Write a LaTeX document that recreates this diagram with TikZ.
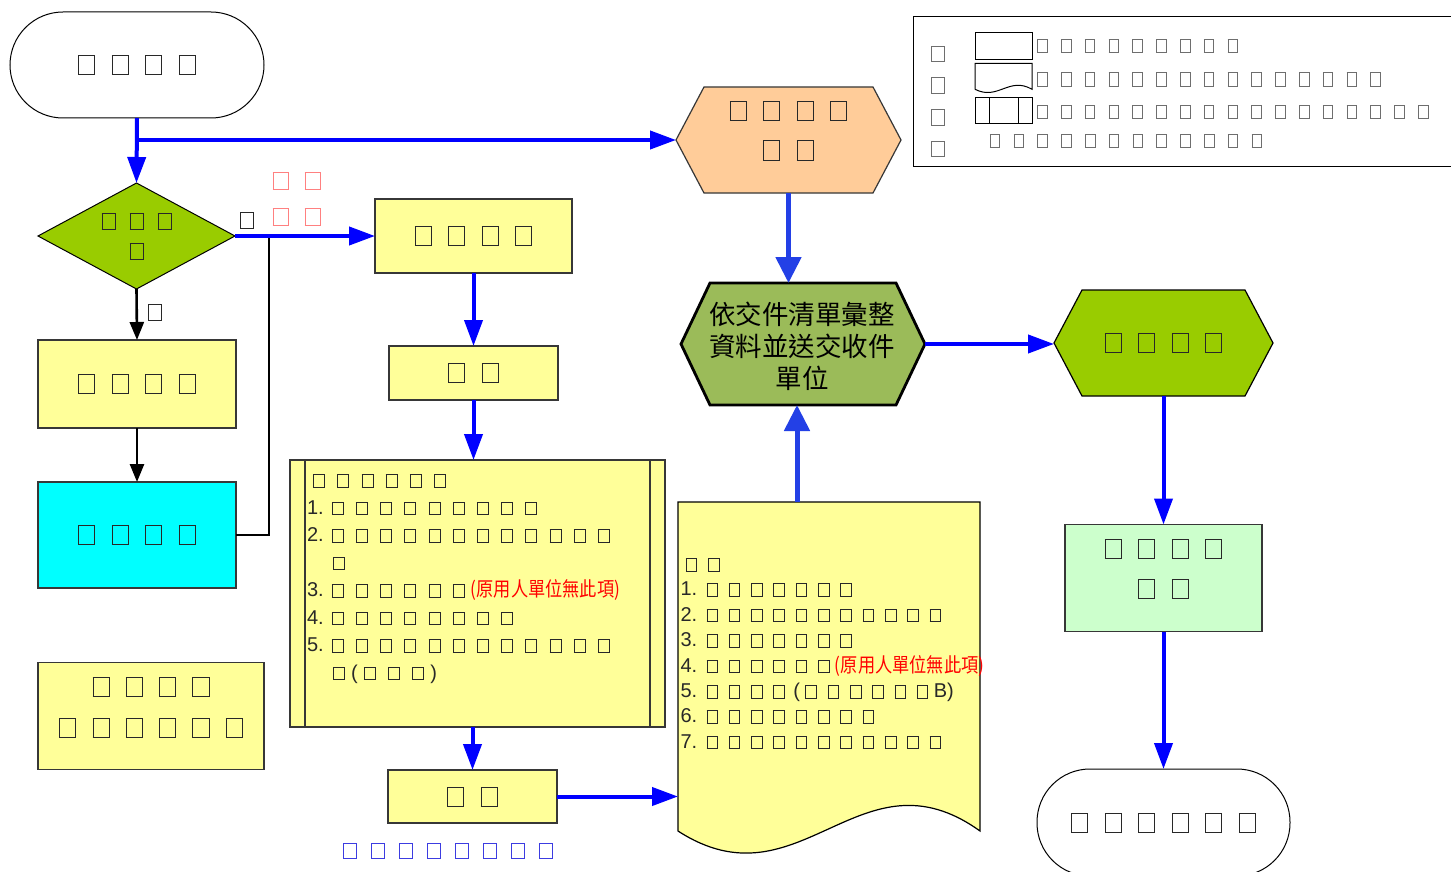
\documentclass[tikz,border=0pt]{standalone}
\usepackage{fontspec}
\usepackage{graphicx}
\setmainfont{Liberation Sans}
\newfontfamily\cjk{Noto Sans CJK TC}
\usetikzlibrary{arrows.meta,shapes.geometric,backgrounds}
\definecolor{cYel}{RGB}{255,255,153}
\definecolor{cEdge}{RGB}{55,55,55}
\definecolor{cLime}{RGB}{153,204,0}
\definecolor{cAqua}{RGB}{0,255,255}
\definecolor{cMint}{RGB}{204,255,204}
\definecolor{cPeach}{RGB}{255,204,153}
\definecolor{cOlive}{RGB}{155,187,89}
\definecolor{cBlue}{RGB}{0,0,255}
\definecolor{cBlueB}{RGB}{35,64,230}
\definecolor{cPink}{RGB}{255,128,128}
\definecolor{cNote}{RGB}{60,60,225}
\definecolor{cGray}{RGB}{110,110,110}
\definecolor{cTofu}{RGB}{40,40,40}
\newlength\tfw \newlength\tfh \newlength\tfp \newlength\tfr
\setlength\tfr{0.95pt}
\newcommand\tofuset[3]{\setlength\tfw{\dimexpr#1pt-2\tfr\relax}\setlength\tfh{\dimexpr#2pt-2\tfr\relax}\setlength\tfp{#3pt}}
\newcommand\T{\makebox[\tfp]{\setlength\fboxsep{0pt}\setlength\fboxrule{\tfr}\fbox{\rule{0pt}{\tfh}\rule{\tfw}{0pt}}}}
\newcommand\TT[1]{\ifnum#1>0 \T\expandafter\TT\expandafter{\the\numexpr#1-1\relax}\fi}
\newcommand\hexpath[2]{(#1.west) -- ([xshift=#2]#1.north west) -- ([xshift=-#2]#1.north east) -- (#1.east) -- ([xshift=-#2]#1.south east) -- ([xshift=#2]#1.south west) -- cycle}
\newcommand\redtxt{\scalebox{0.86}[1]{\cjk\fontsize{20}{20}\selectfont\color{red}(原用人單位無此項)}}
\begin{document}
\begin{tikzpicture}[x=1pt,y=-1pt,
  every node/.style={inner sep=0pt,outer sep=0pt,align=center},
  yel/.style={draw=cEdge,line width=1.2pt,fill=cYel},
  plain/.style={draw=cEdge,line width=1.2pt},
  term/.style={draw=black,line width=1pt,fill=white,rounded corners=53pt,minimum width=254pt,minimum height=106pt},
  bigtf/.style={text=cTofu,font=\tofuset{17}{20}{33.5}\fontsize{20}{40}\selectfont},
  smalltf/.style={text=cTofu,font=\tofuset{14}{17}{20}\fontsize{17}{20}\selectfont},
  barrow/.style={draw=cBlue,line width=4pt,-{Triangle[length=26pt,width=18pt]}},
  bbarrow/.style={draw=cBlueB,line width=5pt,-{Triangle[length=26pt,width=25pt]}},
  karrow/.style={draw=black,line width=2.6pt,-{Triangle[length=18pt,width=14pt]}},
  kline/.style={draw=black,line width=2.6pt}]
\useasboundingbox (0,0) rectangle (1451,872);
\clip (0,0) rectangle (1451,872);

% left column
\node[term,bigtf] (start) at (137,65) {\TT4};
\node[diamond,draw=black,line width=1pt,fill=cLime,minimum width=197pt,minimum height=106pt,shape aspect=1.86,text=cTofu,font=\tofuset{14}{17}{28}\fontsize{17}{30}\selectfont] (dec) at (136.5,236) {\TT3\\\TT1};
\node[yel,bigtf,minimum width=198pt,minimum height=88pt] (b1) at (137,384) {\TT4};
\node[plain,fill=cAqua,bigtf,minimum width=198pt,minimum height=106pt] (cy) at (137,535) {\TT4};
\node[yel,minimum width=226pt,minimum height=107pt] (bl) at (151,716) {};
\node[text=cTofu,font=\tofuset{17}{20}{33.3}\fontsize{20}{41}\selectfont] (blt) at (151,707.5) {\TT4\\\TT6};

% middle column
\node[yel,bigtf,minimum width=197pt,minimum height=74pt] (b2) at (473.5,236) {\TT4};
\node[yel,bigtf,minimum width=169pt,minimum height=54pt] (b3) at (473.5,373) {\TT2};
\node[yel,minimum width=375pt,minimum height=267pt] (pp) at (477.5,593.5) {};
\draw[draw=cEdge,line width=1.2pt] ([xshift=15pt]pp.north west) -- ([xshift=15pt]pp.south west);
\draw[draw=cEdge,line width=1.2pt] ([xshift=-15pt]pp.north east) -- ([xshift=-15pt]pp.south east);
\node[anchor=north west,align=left,text=cTofu,font=\tofuset{12}{13.5}{24.2}\fontsize{20}{27.5}\selectfont] (ppt) at (307,474)
 {\TT6\\
  1.\kern2pt\TT9\\
  2.\kern2pt\TT{12}\\
  \kern20pt\TT1\\
  3.\kern2pt\TT6\redtxt\\
  4.\kern2pt\TT8\\
  5.\kern2pt\TT{12}\\
  \kern20pt\TT1(\TT3)};
\node[yel,bigtf,minimum width=169pt,minimum height=53pt] (b4) at (472.5,796.5) {\TT2};
\node[text=cNote,font=\tofuset{14}{16}{28}\fontsize{16}{20}\selectfont] (lnote) at (448,851) {\TT8};

% document
\node[minimum width=302pt,minimum height=329pt] (doc) at (829,666.5) {};
\node[anchor=north west,align=left,text=cTofu,font=\tofuset{11.5}{13.5}{22.3}\fontsize{20}{25.4}\selectfont] (doct) at (680.5,558)
 {\TT2\\
  1.\kern4pt\TT7\\
  2.\kern4pt\TT{11}\\
  3.\kern4pt\TT7\\
  4.\kern4pt\TT6\redtxt\\
  5.\kern4pt\TT4\kern3pt(\TT6B)\\
  6.\kern4pt\TT8\\
  7.\kern4pt\TT{11}};

% hexagons
\node[minimum width=225pt,minimum height=106pt] (oh) at (788.5,140) {};
\node[bigtf] (oht) at (788.5,130.5) {\TT4\\\TT2};
\node[minimum width=244pt,minimum height=122pt] (mh) at (803,344) {};
\node[font=\cjk\fontsize{26.5}{32}\selectfont] (mht) at (802,346.5) {依交件清單彙整\\資料並送交收件\\單位};
\node[bigtf,minimum width=219pt,minimum height=106pt] (rh) at (1163.5,343) {\TT4};

% right column
\node[plain,fill=cMint,minimum width=197pt,minimum height=107pt] (lg) at (1163.5,578) {};
\node[bigtf] (lgt) at (1163.5,568.5) {\TT4\\\TT2};
\node[term,bigtf,minimum width=253pt,minimum height=107pt] (end) at (1163.5,822.5) {\TT6};

% labels
\node[smalltf] (ly) at (247,220) {\TT1};
\node[smalltf] (ln) at (155,312) {\TT1};
\node[text=cPink,font=\tofuset{16}{18}{32}\fontsize{18}{36}\selectfont] (lr) at (296.5,199) {\TT2\\\TT2};

% legend
\node[draw=black,line width=1pt,fill=white,minimum width=567pt,minimum height=149pt] (leg) at (1196.5,91.5) {};
\node[text=cGray,font=\tofuset{14}{16.7}{16}\fontsize{16}{31.7}\selectfont] (legt) at (938,101.5) {\TT1\\\TT1\\\TT1\\\TT1};
\node[draw=black,line width=1pt,minimum width=57pt,minimum height=26.6pt] (ir) at (1003.5,46) {};
\node[minimum width=57pt,minimum height=26pt] (id) at (1003.5,76.3) {};
\draw[black,line width=1pt] (id.south west) -- (id.north west) -- (id.north east) -- (id.south east) .. controls (1009,76) and (998,101) .. (id.south west);
\node[draw=black,line width=1pt,minimum width=57pt,minimum height=26pt] (ip) at (1003.5,110.3) {};
\draw[black,line width=1pt] ([xshift=14pt]ip.north west) -- ([xshift=14pt]ip.south west);
\draw[black,line width=1pt] ([xshift=-14pt]ip.north east) -- ([xshift=-14pt]ip.south east);
\begin{scope}[every node/.style={anchor=west,inner sep=0pt,text=cGray,font=\tofuset{10.5}{14}{23.8}\fontsize{14}{20}\selectfont}]
\node (lt1) at (1030.4,46.3) {\TT9};
\node (lt2) at (1030.4,79.5) {\TT{15}};
\node (lt3) at (1030.4,111.7) {\TT{17}};
\node (lt4) at (983,141) {\TT{12}};
\end{scope}

% connectors
\coordinate (jn) at (269,236);
\coordinate (du) at ([xshift=-32pt]doc.north);
\draw[kline] (cy.east) -| (jn);
\draw[barrow] (start.south) -- (dec.north);
\draw[barrow] (start.south |- oh.west) -- (oh.west);
\draw[barrow] (dec.east) -- (b2.west);
\draw[karrow] (dec.south) -- (b1.north);
\draw[karrow] (b1.south) -- (cy.north);
\draw[barrow] (b2.south) -- (b3.north);
\draw[barrow] (b3.south) -- (pp.north -| b3.south);
\draw[barrow] (pp.south -| b4.north) -- (b4.north);
\draw[barrow] (b4.east) -- (b4.east -| doc.west);
\draw[bbarrow] (oh.south) -- (oh.south |- mh.north);
\draw[bbarrow] (du) -- (du |- mh.south);
\draw[barrow] (mh.east) -- (mh.east -| rh.west);
\draw[barrow] (rh.south) -- (lg.north);
\draw[barrow] (lg.south) -- (end.north);

% shapes behind
\begin{scope}[on background layer]
\fill[white] (0,0) rectangle (1451,872);
\path[fill=cPeach,draw=cEdge,line width=1.2pt] \hexpath{oh}{28pt};
\path[fill=cOlive,draw=black,line width=2.8pt] \hexpath{mh}{29pt};
\path[fill=cLime,draw=black,line width=1.2pt] \hexpath{rh}{28pt};
\path[fill=cYel,draw=black,line width=1.2pt] (doc.south west) -- (doc.north west) -- (doc.north east) -- (doc.south east) .. controls (860,745) and (800,910) .. (doc.south west) -- cycle;
\end{scope}
\end{tikzpicture}
\end{document}
